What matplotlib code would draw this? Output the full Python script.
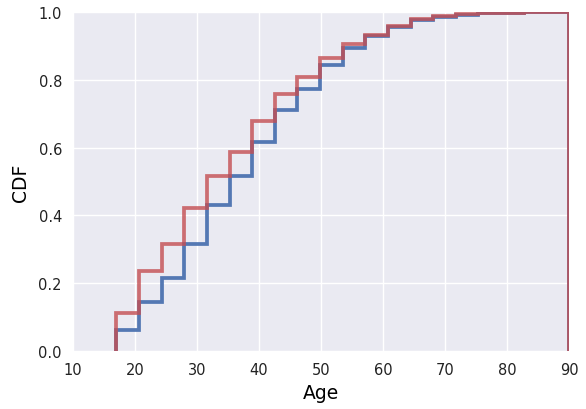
import matplotlib
matplotlib.use("Agg")
import matplotlib.pyplot as plt

# bin edges of the age histogram (years)
age_edges = [17.0, 20.65, 24.3, 27.95, 31.6, 35.25, 38.9, 42.55, 46.2, 49.85,
             53.5, 57.15, 60.8, 64.45, 68.1, 71.75, 75.4, 79.05, 82.7, 86.35, 90.0]

# cumulative fraction at the end of each bin
cdf_blue = [0.062, 0.144, 0.215, 0.317, 0.431, 0.516, 0.617, 0.712, 0.774, 0.844,
            0.895, 0.928, 0.957, 0.977, 0.986, 0.992, 0.996, 0.998, 0.999, 1.0]
cdf_red = [0.112, 0.235, 0.317, 0.422, 0.516, 0.586, 0.677, 0.759, 0.809, 0.864,
           0.905, 0.932, 0.958, 0.978, 0.987, 0.993, 0.996, 0.998, 0.999, 1.0]

x_ticks = [10, 20, 30, 40, 50, 60, 70, 80, 90]
y_ticks = [0.0, 0.2, 0.4, 0.6, 0.8, 1.0]

plt.rcParams['font.family'] = ['DejaVu Sans']

fig = plt.figure(figsize=(5.86, 4.10), dpi=100)
ax = fig.add_axes([0.1246, 0.1415, 0.8464, 0.8268])
ax.set_facecolor('#EAEAF2')
for s in ax.spines.values():
    s.set_visible(False)
ax.grid(True, color='white', linewidth=1.0)
ax.set_axisbelow(True)

ax.stairs(cdf_blue, age_edges, baseline=0, color='#4C72B0', lw=2.7, alpha=0.95)
ax.stairs(cdf_red, age_edges, baseline=0, color='#C44E52', lw=2.7, alpha=0.8)

ax.set_xlim(10, 90)
ax.set_ylim(0, 1)
ax.set_xticks(x_ticks)
ax.set_yticks(y_ticks)
ax.set_xticklabels([str(v) for v in x_ticks])
ax.set_yticklabels([f"{v:.1f}" for v in y_ticks])
ax.tick_params(length=0, labelsize=10.5, pad=8, labelcolor='#222222')
ax.set_xlabel('Age', fontsize=13.5, labelpad=4)
ax.set_ylabel('CDF', fontsize=13.5, labelpad=6)

fig.savefig('out.png', dpi=100)
